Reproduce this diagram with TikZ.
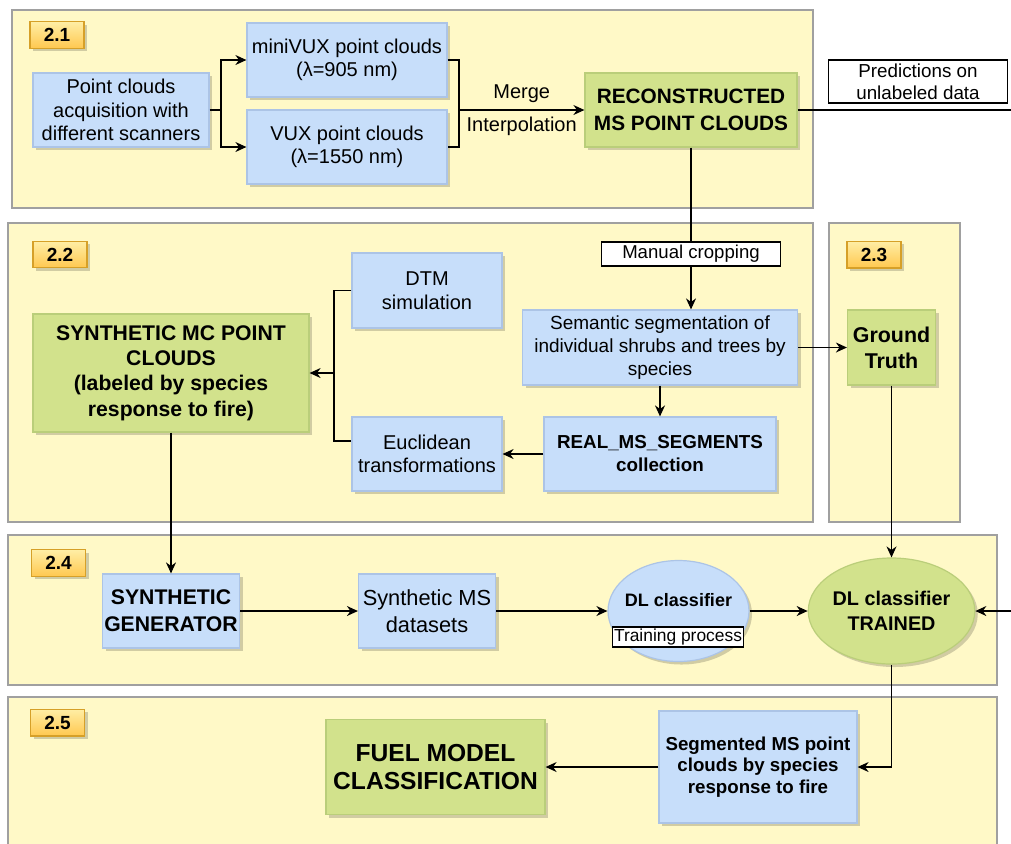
\documentclass[tikz,border=0pt]{standalone}
\usepackage{fontspec}
\setmainfont{Liberation Sans}
\usepackage{tikz}
\usetikzlibrary{arrows.meta,positioning,shapes.geometric,shadows}
\definecolor{panelfill}{RGB}{255,249,199}
\definecolor{panelline}{RGB}{160,160,160}
\definecolor{bluefill}{RGB}{199,222,250}
\definecolor{blueline}{RGB}{172,196,230}
\definecolor{greenfill}{RGB}{210,226,140}
\definecolor{greenline}{RGB}{186,206,122}
\definecolor{tagtop}{RGB}{255,238,165}
\definecolor{tagbottom}{RGB}{255,200,80}
\definecolor{tagline}{RGB}{214,160,40}
\tikzset{%
	panel/.style     = {draw=panelline, fill=panelfill, line width=0.7pt}, % section
	sz/.style 2 args = {minimum width=#1*0.5pt, minimum height=#2*0.5pt},
	fs/.style 2 args = {font=\fontsize{#1}{#2}\selectfont},
	bfs/.style 2 args= {font=\bfseries\fontsize{#1}{#2}\selectfont},
	boxshadow/.style = {drop shadow={shadow xshift=1.5pt, shadow yshift=-1.5pt, fill=black, opacity=0.18}},
	bluebox/.style   = {rectangle, draw=blueline, fill=bluefill, align=center, inner sep=0pt, boxshadow},
	greenbox/.style  = {rectangle, draw=greenline, fill=greenfill, align=center, inner sep=0pt, boxshadow},
	blueoval/.style  = {ellipse, draw=blueline, fill=bluefill, align=center, inner sep=0pt, boxshadow},
	greenoval/.style = {ellipse, draw=greenline, fill=greenfill, align=center, inner sep=0pt, boxshadow},
	whitebox/.style  = {rectangle, draw=black, fill=white, align=center, inner sep=0pt}, % label
	tag/.style       = {rectangle, draw=tagline, top color=tagtop, bottom color=tagbottom, sz={54}{24}, bfs={9.5}{11}, boxshadow},
}

\begin{document}
\begin{tikzpicture}[x=0.5pt,y=-0.5pt,>={Stealth[length=5.5pt,width=5pt]},line width=0.6pt]
	\useasboundingbox (0,0) rectangle (1011,843);
	\clip (0,0) rectangle (1011,843);
	% sections
	\draw[panel] (12,10) rectangle (813,208);
	\draw[panel] (8,223) rectangle (813,522);
	\draw[panel] (829,223) rectangle (960,522);
	\draw[panel] (8,535) rectangle (997,685);
	\draw[panel] (8,697) rectangle (997,860);
	
	\node [tag] (t21) at (57,35) {2.1};
	\node [tag] (t22) at (60,254.5) {2.2};
	\node [tag] (t23) at (874,254.5) {2.3};
	\node [tag] (t24) at (58.5,563) {2.4};
	\node [tag] (t25) at (57.5,722.5) {2.5};
	
	% 2.1
	\node [bluebox,sz={176}{74},fs={10}{11.75}] (acq) at (121,110) {Point clouds\\acquisition with\\different scanners};
	\node [bluebox,sz={200}{74},fs={10}{11.75}] (mvux) at (347,60) {miniVUX point clouds\\(λ=905 nm)};
	\node [bluebox,sz={200}{74},fs={10}{11.75}] (vux) at (347,147) {VUX point clouds\\(λ=1550 nm)};
	\node [greenbox,sz={212}{74},bfs={10.4}{13.5}] (recon) at (691,110) {RECONSTRUCTED\\MS POINT CLOUDS};
	\node [whitebox,sz={179}{43},fs={9.4}{11}] (pred) at (918,81.5) {Predictions on\\unlabeled data};
	\coordinate (split) at (221,110);
	\coordinate (merge) at (459,110);
	\coordinate (predout) at (1011,110);
	
	\draw[->] (acq) -- (split) |- (mvux);
	\draw[->] (split) |- (vux);
	\draw (mvux) -| (merge) |- (vux);
	\draw[->] (merge) -- node[above,fs={10}{12}] {Merge} node[below,fs={10}{12}] {Interpolation} (recon);
	\draw (recon) -- (predout);
	
	% 2.2 and 2.3
	\node [whitebox,sz={179}{24},fs={9.3}{11}] (crop) at (691,254) {Manual cropping};
	\node [bluebox,sz={275}{75},fs={9.5}{11.5}] (seg) at (660,347.5) {Semantic segmentation of\\individual shrubs and trees by\\species};
	\node [greenbox,sz={88}{75},bfs={10.7}{13}] (gt) at (891.5,347.5) {Ground\\Truth};
	\node [bluebox,sz={232}{74},bfs={9.4}{11.5}] (real) at (660,454) {REAL\_MS\_SEGMENTS\\collection};
	\node [bluebox,sz={150}{75},fs={10}{11.75}] (dtm) at (427,290.5) {DTM\\simulation};
	\node [bluebox,sz={150}{74},fs={10}{11.75}] (eucl) at (427,454) {Euclidean\\transformations};
	\node [greenbox,sz={276}{118},bfs={10.6}{12.7}] (synmc) at (171,373) {SYNTHETIC MC POINT\\CLOUDS\\(labeled by species\\response to fire)};
	\coordinate (join) at (334,373);
	
	\draw (recon) -- (crop);
	\draw[->] (crop) -- (crop |- seg.north);
	\draw[->] (seg) -- (gt);
	\draw[->] (seg) -- (real);
	\draw[->] (real) -- (eucl);
	\draw (dtm) -| (join) |- ([yshift=6.5pt]eucl.west);
	\draw[->] (join) -- (synmc);
	
	% 2.4
	\node [bluebox,sz={137}{74},bfs={10.6}{13.5}] (syngen) at (171,611) {SYNTHETIC\\GENERATOR};
	\node [bluebox,sz={137}{74},fs={10.9}{13.5}] (synms) at (427,611) {Synthetic MS\\datasets};
	\node [blueoval,sz={141}{101}] (dl) at (678.5,611) {};
	\node [bfs={9}{11}] (dltxt) at (678.5,600) {DL classifier};
	\node [whitebox,sz={131}{20},fs={8.7}{10}] (train) at (678,637) {Training process};
	\node [greenoval,sz={140}{106},bfs={9.9}{12.5}] (dlt) at (891.5,611) {DL classifier\\TRAINED};
	\coordinate (dltin) at (1011,611);
	
	\draw[->] (synmc) -- (syngen);
	\draw[->] (syngen) -- (synms);
	\draw[->] (synms) -- (dl);
	\draw[->] (dl) -- (dlt);
	\draw[->] (gt) -- (dlt);
	\draw[->] (dltin) -- (dlt);
	
	% 2.5
	\node [bluebox,sz={198}{112},bfs={9.35}{10.75}] (segms) at (758,767) {Segmented MS point\\clouds by species\\response to fire};
	\node [greenbox,sz={219}{95},bfs={12.3}{14}] (fuel) at (435.5,767) {FUEL MODEL\\CLASSIFICATION};
	
	\draw[->] (dlt) |- (segms);
	\draw[->] (segms) -- (fuel);
\end{tikzpicture}
\end{document}
